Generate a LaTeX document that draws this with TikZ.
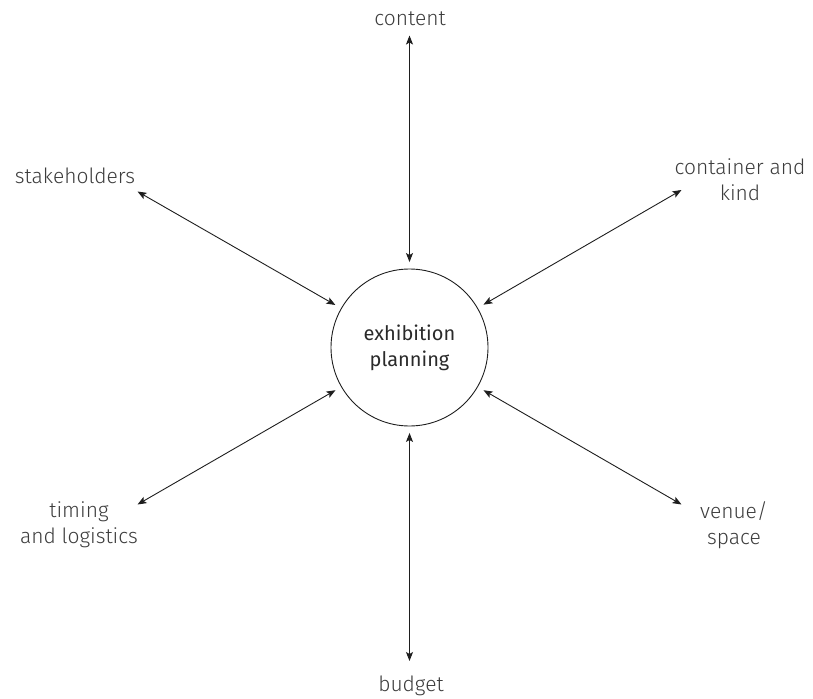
\documentclass[tikz,border=0pt]{standalone}
\usepackage{fontspec}
\setmainfont{Fira Sans Light}
\newfontfamily\hubfont{Fira Sans}
\usetikzlibrary{arrows.meta,calc}
\definecolor{labelgray}{HTML}{3C3C3C}
\definecolor{hubgray}{HTML}{2A2A2A}
\definecolor{linegray}{HTML}{1E1E1E}
\tikzset{
  lbl/.style={text=labelgray, align=center, inner sep=0pt, font=\fontsize{21bp}{26bp}\selectfont},
  hubnode/.style={circle, draw=linegray, line width=0.9bp, minimum size=157bp, inner sep=0pt, align=center, text=hubgray, font=\hubfont\fontsize{20bp}{26bp}\selectfont},
  spoke/.style={draw=linegray, line width=0.9bp, {Stealth[length=9bp,width=7bp,inset=2bp]}-{Stealth[length=9bp,width=7bp,inset=2bp]}, shorten >=6.5bp}
}
\begin{document}
\begin{tikzpicture}[x=1bp,y=-1bp]
\useasboundingbox (0,0) rectangle (813,699);
\node[hubnode] (hub) at (409.5,347.5) {exhibition\\planning};
% labels
\node[lbl] (content) at (410,19) {content};
\node[lbl] (stake) at (75,176) {stakeholders};
\node[lbl] (cont) at (740,180) {container and\\kind};
\node[lbl] (timing) at (79,525) {timing\\and logistics};
\node[lbl] (venue) at (734,525) {venue/\\space};
\node[lbl] (budget) at (411,686) {budget};
% arrow outer tips
\coordinate (tC) at ($(hub.center)+(0,-312)$);
\coordinate (tS) at ($(hub.center)+(-272,-156)$);
\coordinate (tK) at ($(hub.center)+(272,-157.5)$);
\coordinate (tT) at ($(hub.center)+(-272,157)$);
\coordinate (tV) at ($(hub.center)+(272,157)$);
\coordinate (tB) at ($(hub.center)+(0,313.5)$);
\draw[spoke] (tC) -- (hub);
\draw[spoke] (tS) -- (hub);
\draw[spoke] (tK) -- (hub);
\draw[spoke] (tT) -- (hub);
\draw[spoke] (tV) -- (hub);
\draw[spoke] (tB) -- (hub);
\end{tikzpicture}
\end{document}
